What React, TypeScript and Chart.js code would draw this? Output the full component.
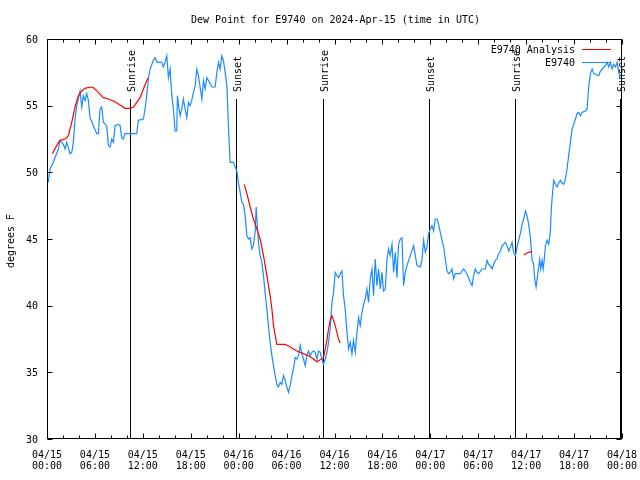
import React, { useEffect, useRef } from 'react';
import { Chart, registerables } from 'chart.js';

Chart.register(...registerables);

const TITLE = 'Dew Point for E9740 on 2024-Apr-15 (time in UTC)';
const Y_LABEL = 'degrees F';
const Y_TICKS = [30, 35, 40, 45, 50, 55, 60];
const X_TICK_HOURS = [0, 6, 12, 18, 24, 30, 36, 42, 48, 54, 60, 66, 72];
const X_TICK_LABELS = [
  ['04/15', '00:00'], ['04/15', '06:00'], ['04/15', '12:00'], ['04/15', '18:00'],
  ['04/16', '00:00'], ['04/16', '06:00'], ['04/16', '12:00'], ['04/16', '18:00'],
  ['04/17', '00:00'], ['04/17', '06:00'], ['04/17', '12:00'], ['04/17', '18:00'],
  ['04/18', '00:00'],
];
const MINOR_STEP = 2;
const SUN_HOURS = [10.4, 23.7, 34.5, 47.8, 58.6, 71.8];
const SUN_LABELS = ['Sunrise', 'Sunset', 'Sunrise', 'Sunset', 'Sunrise', 'Sunset'];

const OBS_LABEL = 'E9740';
const OBS_HOURS = [
  0.16, 0.38, 0.79, 1.42, 1.63, 2.04, 2.26, 2.47, 2.88, 3.1, 3.3, 3.51, 3.72, 4.14, 4.35, 4.55, 4.76, 4.97, 5.18, 5.39,
  5.8, 6.23, 6.43, 6.64, 6.85, 7.06, 7.48, 7.68, 7.89, 8.11, 8.31, 8.52, 8.93, 9.15, 9.36, 9.56, 9.77, 10.4, 11.24, 11.44,
  12.07, 12.28, 12.49, 12.69, 12.91, 13.32, 13.53, 13.75, 13.95, 14.37, 14.57, 14.79, 15.0, 15.2, 15.41, 15.63, 15.83, 16.04, 16.25, 16.33,
  16.45, 16.67, 16.88, 17.08, 17.29, 17.51, 17.71, 17.92, 18.13, 18.33, 18.55, 18.76, 18.96, 19.17, 19.39, 19.59, 19.8, 20.01, 20.21, 20.64,
  21.05, 21.27, 21.47, 21.68, 21.89, 22.09, 22.31, 22.52, 22.72, 22.93, 23.35, 23.56, 23.77, 23.97, 24.19, 24.4, 24.6, 24.81, 25.03, 25.23,
  25.44, 25.65, 25.85, 26.07, 26.19, 26.35, 26.48, 26.69, 26.9, 27.11, 27.32, 27.53, 27.73, 27.94, 28.16, 28.36, 28.57, 28.78, 28.98, 29.2,
  29.41, 29.61, 29.82, 30.04, 30.24, 30.45, 30.66, 30.86, 31.08, 31.29, 31.49, 31.7, 31.92, 32.12, 32.33, 32.54, 32.74, 32.96, 33.17, 33.37,
  33.58, 33.8, 34.0, 34.21, 34.42, 34.62, 34.84, 35.05, 35.25, 35.46, 35.68, 35.88, 36.09, 36.3, 36.5, 36.72, 36.93, 37.13, 37.34, 37.56,
  37.76, 37.97, 38.18, 38.38, 38.6, 38.81, 39.01, 39.22, 39.44, 39.64, 39.85, 40.06, 40.26, 40.48, 40.69, 40.89, 41.1, 41.32, 41.52, 41.73,
  41.94, 42.14, 42.36, 42.57, 42.77, 42.98, 43.2, 43.4, 43.61, 43.82, 44.02, 44.24, 44.45, 44.65, 44.86, 45.07, 45.49, 45.9, 46.12, 46.33,
  46.74, 46.95, 47.16, 47.37, 47.58, 47.78, 48.0, 48.21, 48.41, 48.62, 48.84, 49.04, 49.25, 49.46, 49.67, 49.87, 50.09, 50.29, 50.5, 50.71,
  50.91, 51.13, 51.34, 51.75, 52.16, 52.38, 52.79, 53.0, 53.22, 53.42, 53.63, 53.85, 54.05, 54.47, 54.89, 55.1, 55.3, 55.51, 55.73, 55.93,
  56.14, 56.35, 56.55, 56.77, 56.98, 57.18, 57.39, 57.61, 57.81, 58.02, 58.23, 58.43, 58.65, 58.86, 59.27, 59.49, 59.69, 59.9, 60.11, 60.31,
  60.53, 60.74, 60.94, 61.07, 61.24, 61.4, 61.53, 61.7, 61.82, 62.0, 62.13, 62.28, 62.41, 62.62, 62.82, 63.03, 63.12, 63.24, 63.45, 63.66,
  63.87, 64.07, 64.29, 64.5, 64.7, 64.91, 65.12, 65.32, 65.54, 65.75, 65.95, 66.17, 66.38, 66.58, 66.79, 67.01, 67.42, 67.63, 67.83, 68.05,
  68.26, 68.46, 68.88, 69.08, 69.3, 69.51, 69.92, 70.13, 70.34, 70.55, 70.76, 70.96, 71.18, 71.39, 71.59, 71.8,
];
const OBS_VALUES = [
  49.25, 50.25, 50.75, 51.75, 52.4, 52.1, 51.75, 52.25, 51.4, 51.5, 52.25, 54.0, 55.0, 56.1, 54.9, 55.75, 55.4, 55.9, 55.4, 54.1,
  53.5, 52.9, 52.9, 54.75, 54.9, 53.75, 53.5, 52.0, 51.9, 52.5, 52.25, 53.5, 53.6, 53.5, 52.6, 52.5, 52.9, 52.9, 52.9, 53.9,
  54.0, 54.75, 55.75, 57.0, 57.75, 58.4, 58.6, 58.3, 58.25, 58.25, 57.9, 58.25, 58.75, 57.1, 57.75, 55.75, 54.75, 53.1, 53.1, 55.75,
  55.1, 54.25, 54.75, 55.5, 54.75, 54.1, 55.25, 55.0, 55.4, 56.0, 56.5, 57.75, 57.25, 56.4, 55.5, 56.9, 56.25, 57.1, 56.9, 56.4,
  56.4, 57.5, 58.25, 57.75, 58.75, 58.4, 57.5, 56.5, 53.5, 50.75, 50.75, 50.4, 50.1, 49.25, 48.5, 47.75, 47.6, 46.75, 45.25, 45.0,
  45.1, 44.25, 44.5, 45.6, 47.4, 45.9, 44.75, 43.75, 43.25, 42.25, 40.9, 39.75, 38.5, 37.25, 36.25, 35.5, 34.75, 34.1, 33.9, 34.25,
  34.1, 34.75, 34.4, 33.9, 33.5, 34.0, 34.75, 35.25, 36.1, 36.0, 36.25, 37.0, 36.4, 36.0, 35.5, 36.25, 36.6, 36.25, 36.5, 36.6,
  36.5, 36.0, 36.6, 36.5, 36.0, 35.6, 36.0, 36.5, 37.25, 38.25, 40.25, 41.0, 42.5, 42.25, 42.1, 42.4, 42.6, 40.75, 39.75, 38.0,
  36.75, 37.25, 36.4, 37.4, 36.5, 38.0, 39.1, 38.5, 39.5, 40.1, 40.5, 41.25, 40.25, 42.0, 42.75, 40.75, 43.5, 41.5, 42.75, 41.25,
  42.5, 41.1, 41.25, 43.5, 44.25, 43.75, 44.6, 42.5, 44.0, 42.1, 44.6, 45.0, 45.1, 41.5, 42.5, 43.0, 43.75, 44.5, 43.75, 43.0,
  42.9, 43.4, 44.9, 44.0, 44.4, 45.4, 45.75, 46.0, 45.6, 46.5, 46.5, 46.1, 45.5, 44.9, 44.4, 43.5, 42.6, 42.4, 42.5, 42.75,
  42.0, 42.4, 42.4, 42.4, 42.75, 42.6, 42.1, 41.75, 41.5, 42.25, 42.75, 42.5, 42.4, 42.75, 42.75, 43.4, 43.1, 43.0, 42.75, 43.1,
  43.4, 43.5, 43.9, 44.1, 44.5, 44.6, 44.75, 44.5, 44.1, 44.4, 44.75, 44.0, 43.75, 44.4, 45.4, 46.1, 46.5, 47.1, 46.75, 46.1,
  45.1, 43.4, 43.1, 42.0, 41.4, 42.1, 42.75, 43.5, 42.75, 43.4, 42.75, 43.5, 44.5, 44.9, 44.6, 45.5, 46.9, 48.0, 49.4, 49.1,
  48.9, 49.2, 49.4, 49.2, 49.1, 49.5, 50.25, 51.25, 52.25, 53.25, 53.6, 54.0, 54.4, 54.5, 54.25, 54.5, 54.6, 54.75, 56.4, 57.4,
  57.75, 57.4, 57.3, 57.25, 57.6, 57.75, 58.0, 58.25, 57.9, 58.25, 57.75, 58.1, 57.9, 58.25, 57.5, 57.0,
];

const ANA_LABEL = 'E9740 Analysis';
const ANA_HOURS = [
  0.66, 1.21, 1.63, 2.26, 2.67, 3.1, 3.51, 3.92, 4.35, 4.76, 5.39, 5.8, 6.43, 7.06, 7.68, 8.52, 9.15, 9.77, 10.4, 10.82,
  11.24, 11.65, 12.07, 12.41, 12.69,
  18.0,
  24.69, 25.03, 25.44, 25.85, 26.28, 26.69, 27.11, 27.53, 27.94, 28.16, 28.36, 28.78, 29.82, 30.45, 31.29, 32.12, 32.74, 33.37,
  33.8, 34.21, 34.62, 34.84, 35.05, 35.25, 35.46, 35.68, 35.88, 36.09, 36.3, 36.5, 36.72,
  48.0,
  59.69, 60.11, 60.31, 60.74,
];
const ANA_VALUES = [
  51.4, 52.0, 52.4, 52.5, 52.75, 53.75, 54.9, 55.75, 56.1, 56.3, 56.4, 56.35, 56.0, 55.6, 55.5, 55.3, 55.05, 54.8, 54.8, 54.9,
  55.25, 55.6, 56.25, 56.75, 57.1,
  null,
  49.1, 48.4, 47.4, 46.5, 45.75, 45.0, 43.75, 42.25, 40.75, 39.75, 38.5, 37.1, 37.1, 36.9, 36.6, 36.4, 36.25, 36.0,
  35.8, 35.95, 36.1, 36.75, 37.4, 38.25, 38.9, 39.25, 38.9, 38.5, 38.0, 37.5, 37.2,
  null,
  43.8, 43.95, 44.0, 44.05,
];

const OBS_COLOR = '#1a8cff';
const ANA_COLOR = '#ff0000';
const FONT = '10px "DejaVu Sans Mono", monospace';

const gnuPlugin = {
  id: 'gnuStyle',
  beforeDatasetsDraw(chart: any) {
    const { ctx, chartArea: a, scales } = chart;
    const x = scales.x;
    ctx.save();
    ctx.strokeStyle = '#000';
    ctx.fillStyle = '#000';
    ctx.lineWidth = 1;
    ctx.font = FONT;
    SUN_HOURS.forEach((h, i) => {
      const px = Math.round(x.getPixelForValue(h)) + 0.5;
      ctx.beginPath();
      ctx.moveTo(px, 99);
      ctx.lineTo(px, a.bottom);
      ctx.stroke();
      ctx.save();
      ctx.translate(px + 2, 92);
      ctx.rotate(-Math.PI / 2);
      ctx.textAlign = 'left';
      ctx.textBaseline = 'middle';
      ctx.fillText(SUN_LABELS[i], 0, 0);
      ctx.restore();
    });
    ctx.restore();
  },
  afterDraw(chart: any) {
    const { ctx, chartArea: a, scales } = chart;
    const x = scales.x;
    const y = scales.y;
    const L = Math.round(a.left) + 0.5;
    const R = Math.round(a.right) - 0.5;
    const T = Math.round(a.top) + 0.5;
    const B = Math.round(a.bottom) - 0.5;
    ctx.save();
    ctx.strokeStyle = '#000';
    ctx.fillStyle = '#000';
    ctx.lineWidth = 1;
    // frame
    ctx.strokeRect(L, T, R - L, B - T);
    // x ticks
    ctx.beginPath();
    for (let h = x.min; h <= x.max + 1e-9; h += MINOR_STEP) {
      const px = Math.round(x.getPixelForValue(h)) + 0.5;
      const major = X_TICK_HOURS.includes(h);
      const len = major ? 5 : 3;
      ctx.moveTo(px, B);
      ctx.lineTo(px, B - len);
      ctx.moveTo(px, T);
      ctx.lineTo(px, T + len);
    }
    // y ticks
    Y_TICKS.forEach((v) => {
      const py = Math.round(y.getPixelForValue(v)) + 0.5;
      ctx.moveTo(L, py);
      ctx.lineTo(L + 5, py);
      ctx.moveTo(R, py);
      ctx.lineTo(R - 5, py);
    });
    ctx.stroke();
    // labels
    ctx.font = FONT;
    ctx.textBaseline = 'middle';
    ctx.textAlign = 'right';
    Y_TICKS.forEach((v) => {
      ctx.fillText(String(v), a.left - 9, y.getPixelForValue(v) + 1);
    });
    ctx.textAlign = 'center';
    X_TICK_HOURS.forEach((h, i) => {
      const px = x.getPixelForValue(h);
      ctx.fillText(X_TICK_LABELS[i][0], px, a.bottom + 16);
      ctx.fillText(X_TICK_LABELS[i][1], px, a.bottom + 27);
    });
    // title
    ctx.fillText(TITLE, (a.left + a.right) / 2 + 1, 20);
    // y label
    ctx.save();
    ctx.translate(11, (a.top + a.bottom) / 2 + 2);
    ctx.rotate(-Math.PI / 2);
    ctx.fillText(Y_LABEL, 0, 0);
    ctx.restore();
    // legend
    const items = [
      { label: ANA_LABEL, color: ANA_COLOR },
      { label: OBS_LABEL, color: OBS_COLOR },
    ];
    items.forEach((it, i) => {
      const ly = 50 + i * 13;
      ctx.textAlign = 'right';
      ctx.fillStyle = '#000';
      ctx.fillText(it.label, a.right - 47, ly);
      ctx.strokeStyle = it.color;
      ctx.beginPath();
      ctx.moveTo(a.right - 40, Math.round(ly) - 0.5);
      ctx.lineTo(a.right - 11, Math.round(ly) - 0.5);
      ctx.stroke();
    });
    ctx.restore();
  },
};

export default function App() {
  const ref = useRef<HTMLCanvasElement | null>(null);
  useEffect(() => {
    const canvas = ref.current;
    if (!canvas) return;
    const chart = new Chart(canvas, {
      type: 'line',
      data: {
        datasets: [
          {
            label: ANA_LABEL,
            data: ANA_HOURS.map((h, i) => ({ x: h, y: ANA_VALUES[i] })) as any,
            borderColor: ANA_COLOR,
            borderWidth: 1.2,
            pointRadius: 0,
            tension: 0,
            spanGaps: false,
            fill: false,
          },
          {
            label: OBS_LABEL,
            data: OBS_HOURS.map((h, i) => ({ x: h, y: OBS_VALUES[i] })),
            borderColor: OBS_COLOR,
            borderWidth: 1.2,
            pointRadius: 0,
            tension: 0,
            fill: false,
          },
        ],
      },
      options: {
        animation: false,
        responsive: false,
        devicePixelRatio: 1,
        layout: { padding: { left: 47, top: 39, right: 18, bottom: 41 } },
        scales: {
          x: { type: 'linear', min: 0, max: 72, display: false },
          y: { type: 'linear', min: 30, max: 60, display: false },
        },
        plugins: {
          legend: { display: false },
          title: { display: false },
          tooltip: { enabled: false },
        },
      },
      plugins: [gnuPlugin],
    });
    return () => chart.destroy();
  }, []);
  return (
    <div style={{ position: 'fixed', left: 0, top: 0, width: 640, height: 480, background: '#fff' }}>
      <canvas ref={ref} width={640} height={480} />
    </div>
  );
}
